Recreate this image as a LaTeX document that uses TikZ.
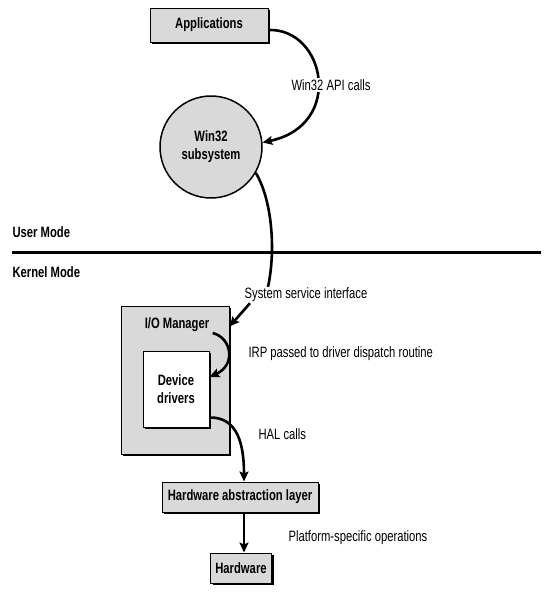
\documentclass[tikz,border=0pt]{standalone}
\usepackage{fontspec}
\setmainfont{Liberation Sans}[FakeStretch=0.75]
\usetikzlibrary{arrows.meta,shadows}

\begin{document}
\begin{tikzpicture}[
  x=1pt, y=-1pt,
  every node/.style={font=\fontsize{15}{18}\selectfont},
  box/.style={draw, line width=1pt, fill=gray!30, inner sep=0pt,
    font=\fontsize{15}{18}\selectfont\bfseries,
    drop shadow={shadow xshift=2pt, shadow yshift=-2pt, fill=black, opacity=1}},
  lbl/.style={fill=white, inner sep=1pt},
  arrow/.style={-{Stealth[length=10pt,width=9pt,inset=2pt]}, line width=2.6pt},
  conn/.style={line width=2.6pt}
]
\useasboundingbox (0,0) rectangle (545,592);

% user / kernel split
\coordinate (ml) at (12,252);
\coordinate (mr) at (541,252);
\draw[line width=3pt] (ml) -- (mr);
\node[anchor=west, font=\fontsize{15}{18}\selectfont\bfseries] (um) at (9,232) {User Mode};
\node[anchor=west, font=\fontsize{15}{18}\selectfont\bfseries] (km) at (9,272) {Kernel Mode};

% components
\node[box, minimum width=118pt, minimum height=34pt] (apps) at (209,25) {Applications};
\node[draw, circle, line width=1.5pt, fill=gray!30, align=center, minimum size=102pt,
  font=\fontsize{15}{18}\selectfont\bfseries] (w32) at (211,147) {Win32\\subsystem};
\node[box, minimum width=108pt, minimum height=148pt] (iom) at (175,380) {};
\node[font=\fontsize{15}{18}\selectfont\bfseries] (iomlbl) at (177,325) {I/O Manager};
\node[box, fill=white, align=center, minimum width=66pt, minimum height=76pt] (dev) at (176,389) {Device\\drivers};
\node[box, minimum width=156pt, minimum height=30pt] (hal) at (240,497) {Hardware abstraction layer};
\node[box, minimum width=61pt, minimum height=30pt] (hw) at (241,568) {Hardware};

% labels
\node[lbl] (ssi) at (306,295) {System service interface};
\node[anchor=west] (irp) at (245,354) {IRP passed to driver dispatch routine};
\node[anchor=west] (halc) at (255,434) {HAL calls};
\node[anchor=west] (plat) at (285,538) {Platform-specific operations};

% calls
\draw[arrow] ([yshift=-5pt]apps.east) .. controls (325,28) and (345,125) .. (w32.5);
\node[lbl] (api) at (331,85) {Win32 API calls};
\draw[conn] (w32.-30) .. controls (272,200) and (276,250) .. ([xshift=-38pt]ssi.north);
\draw[arrow] ([xshift=-56pt]ssi.south) -- ([yshift=-21pt]iom.north east);
\draw[arrow] ([yshift=-8pt]iomlbl.east) .. controls (232,338) and (236,365) .. ([yshift=12pt]dev.east);
\draw[arrow] ([yshift=10pt]dev.south east) .. controls (238,417) and (244,445) .. ([xshift=4pt]hal.north);
\draw[arrow] ([xshift=4pt]hal.south) -- ([xshift=3pt]hw.north);
\end{tikzpicture}
\end{document}
